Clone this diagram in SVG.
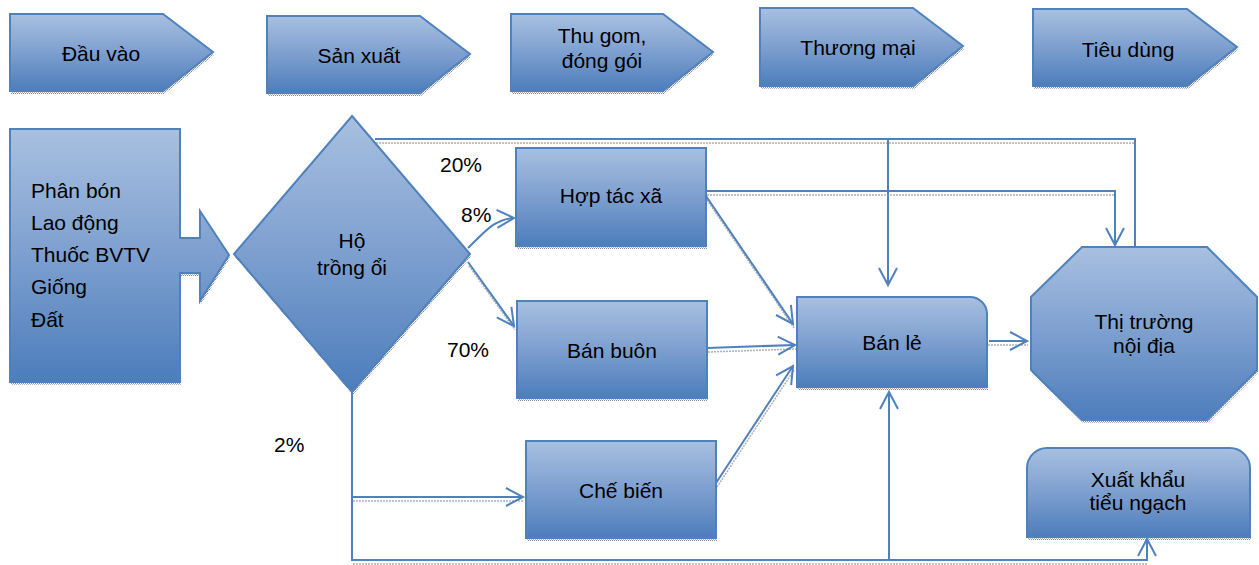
<svg xmlns="http://www.w3.org/2000/svg" width="1259" height="565" viewBox="0 0 1259 565">
<defs>
<linearGradient id="g" x1="0" y1="0" x2="0" y2="1">
<stop offset="0" stop-color="#a8c0e0"/>
<stop offset="0.5" stop-color="#7d9fcf"/>
<stop offset="1" stop-color="#4c7dbb"/>
</linearGradient>
<pattern id="dots" width="2" height="2" patternUnits="userSpaceOnUse">
<rect width="1" height="1" fill="#8a8a8a"/>
<rect x="1" y="1" width="1" height="1" fill="#b5b5b5"/>
</pattern>
<marker id="ah" markerUnits="userSpaceOnUse" markerWidth="22" markerHeight="24" viewBox="-2 -12 22 24" refX="17" refY="0" orient="auto">
<path d="M0,-9 L17,0 L0,9" fill="none" stroke="#4f81bd" stroke-width="2"/>
</marker>
<style>
.shp{fill:url(#g);stroke:#4f81bd;stroke-width:2}
.sh{fill:url(#dots)}
.t{font-family:"Liberation Sans",Arial,sans-serif;font-size:21px;fill:#000}
.m{text-anchor:middle}
.c{fill:none;stroke:#4f81bd;stroke-width:2}
.cs{fill:none;stroke:#b0b0b0;stroke-width:1.5;stroke-dasharray:2 1}
</style>
</defs>

<g id="connectors-shadow" transform="translate(1,4)">
<path class="cs" d="M375,139 H1135"/>
<path class="cs" d="M706,191 H1115"/>
<path class="cs" d="M707,348 L795,345"/>
<path class="cs" d="M987,341 H1027"/>
<path class="cs" d="M352,497 H523"/>
<path class="cs" d="M352,560 H1147"/>
<path class="cs" d="M706,196 L793,324"/>
<path class="cs" d="M716,483 L793,366"/>
<path class="cs" d="M468,262 L514,326"/>
</g>

<g id="stage-dauvao">
<path class="sh" transform="translate(1,3)" d="M10,14 H163 L213,52 L163,91 H10 Z"/>
<path class="shp" d="M10,14 H163 L213,52 L163,91 H10 Z"/>
<text class="t m" x="101" y="61">Đầu vào</text>
</g>
<g id="stage-sanxuat">
<path class="sh" transform="translate(1,3)" d="M267,16 H420 L470,54 L420,93 H267 Z"/>
<path class="shp" d="M267,16 H420 L470,54 L420,93 H267 Z"/>
<text class="t m" x="359" y="63">Sản xuất</text>
</g>
<g id="stage-thugom">
<path class="sh" transform="translate(1,3)" d="M511,14 H663 L713,52 L663,91 H511 Z"/>
<path class="shp" d="M511,14 H663 L713,52 L663,91 H511 Z"/>
<text class="t m" x="602" y="43">Thu gom,</text>
<text class="t m" x="602" y="68">đóng gói</text>
</g>
<g id="stage-thuongmai">
<path class="sh" transform="translate(1,3)" d="M760,8 H913 L963,46 L913,86 H760 Z"/>
<path class="shp" d="M760,8 H913 L963,46 L913,86 H760 Z"/>
<text class="t m" x="858" y="55">Thương mại</text>
</g>
<g id="stage-tieudung">
<path class="sh" transform="translate(1,3)" d="M1033,9 H1187 L1237,47 L1187,86 H1033 Z"/>
<path class="shp" d="M1033,9 H1187 L1237,47 L1187,86 H1033 Z"/>
<text class="t m" x="1128" y="57">Tiêu dùng</text>
</g>

<g id="inputs">
<path class="sh" transform="translate(1,3)" d="M10,129 H180 V238 H200 V211 L229,255 L200,301 V273 H180 V382 H10 Z"/>
<path class="shp" d="M10,129 H180 V238 H200 V211 L229,255 L200,301 V273 H180 V382 H10 Z"/>
<text class="t" x="31" y="198">Phân bón</text>
<text class="t" x="31" y="230">Lao động</text>
<text class="t" x="31" y="262">Thuốc BVTV</text>
<text class="t" x="31" y="294">Giống</text>
<text class="t" x="31" y="327">Đất</text>
</g>

<g id="ho-trong-oi">
<path class="sh" transform="translate(1,3)" d="M352,116 L470,254 L352,392 L234,254 Z"/>
<path class="shp" d="M352,116 L470,254 L352,392 L234,254 Z"/>
<text class="t m" x="352" y="248">Hộ</text>
<text class="t m" x="352" y="275">trồng ổi</text>
</g>

<g id="hop-tac-xa">
<rect class="sh" x="517" y="151" width="190" height="98"/>
<rect class="shp" x="516" y="148" width="190" height="98"/>
<text class="t m" x="611" y="203">Hợp tác xã</text>
</g>
<g id="ban-buon">
<rect class="sh" x="518" y="304" width="190" height="97"/>
<rect class="shp" x="517" y="301" width="190" height="97"/>
<text class="t m" x="612" y="358">Bán buôn</text>
</g>
<g id="che-bien">
<rect class="sh" x="527" y="444" width="190" height="97"/>
<rect class="shp" x="526" y="441" width="190" height="97"/>
<text class="t m" x="621" y="498">Chế biến</text>
</g>
<g id="ban-le">
<path class="sh" transform="translate(1,3)" d="M797,297 H970 A17,17 0 0 1 987,314 V387 H797 Z"/>
<path class="shp" d="M797,297 H970 A17,17 0 0 1 987,314 V387 H797 Z"/>
<text class="t m" x="892" y="350">Bán lẻ</text>
</g>
<g id="thi-truong-noi-dia">
<path class="sh" transform="translate(1,3)" d="M1082,247 H1207 L1257,297 V370 L1207,420 H1082 L1031,370 V297 Z"/>
<path class="shp" d="M1082,247 H1207 L1257,297 V370 L1207,420 H1082 L1031,370 V297 Z"/>
<text class="t m" x="1144" y="329">Thị trường</text>
<text class="t m" x="1144" y="353">nội địa</text>
</g>
<g id="xuat-khau">
<path class="sh" transform="translate(1,3)" d="M1027,537 V468 A20,20 0 0 1 1047,448 H1230 A20,20 0 0 1 1250,468 V537 Z"/>
<path class="shp" d="M1027,537 V468 A20,20 0 0 1 1047,448 H1230 A20,20 0 0 1 1250,468 V537 Z"/>
<text class="t m" x="1138" y="487">Xuất khẩu</text>
<text class="t m" x="1138" y="510">tiểu ngạch</text>
</g>

<g id="connectors">
<path class="c" d="M375,139 H1135 V247"/>
<path class="c" d="M888,139 V285" marker-end="url(#ah)"/>
<path class="c" d="M706,191 H1115 V245" marker-end="url(#ah)"/>
<path class="c" d="M706,196 L793,324" marker-end="url(#ah)"/>
<path class="c" d="M707,348 L795,345" marker-end="url(#ah)"/>
<path class="c" d="M716,483 L793,366" marker-end="url(#ah)"/>
<path class="c" d="M989,341 H1027" marker-end="url(#ah)"/>
<path class="c" d="M468,248 C485,232 494,219 514,218" marker-end="url(#ah)"/>
<path class="c" d="M468,262 L514,326" marker-end="url(#ah)"/>
<path class="c" d="M352,392 V560 H1147 V539" marker-end="url(#ah)"/>
<path class="c" d="M352,497 H523" marker-end="url(#ah)"/>
<path class="c" d="M889,560 V392" marker-end="url(#ah)"/>
</g>

<g id="labels">
<text class="t" x="440" y="172">20%</text>
<text class="t" x="461" y="222">8%</text>
<text class="t" x="447" y="357">70%</text>
<text class="t" x="274" y="452">2%</text>
</g>
</svg>
